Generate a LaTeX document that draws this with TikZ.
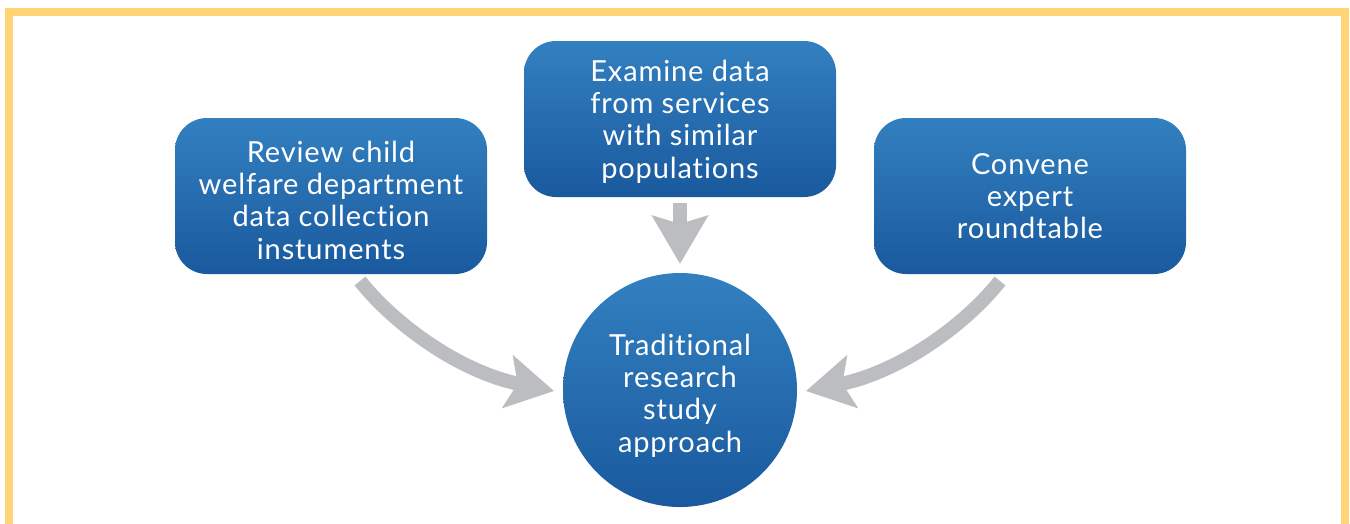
\documentclass[tikz,border=0pt]{standalone}
\usepackage{fontspec}
\setmainfont{Lato}[Ligatures=NoCommon, LetterSpace=3]
\usetikzlibrary{arrows.meta}
\definecolor{frameyellow}{RGB}{255,212,117}
\definecolor{boxtop}{RGB}{50,128,192}
\definecolor{boxbot}{RGB}{26,89,158}
\definecolor{arrowgray}{RGB}{188,189,192}
\tikzset{
  bluebox/.style={rounded corners=32pt, top color=boxtop, bottom color=boxbot,
    draw=none, minimum width=312pt, minimum height=156pt, text=white,
    align=center, inner sep=0pt, text depth=-2pt,
    font=\fontsize{29}{32.3}\selectfont},
  bluecircle/.style={circle, top color=boxtop, bottom color=boxbot,
    draw=none, minimum size=234pt, text=white, align=center, inner sep=0pt,
    text height=124pt, text depth=0pt, font=\fontsize{29}{32.3}\selectfont},
  grayarrow/.style={draw=arrowgray, line width=14pt,
    -{Stealth[length=47pt,width=53pt,inset=10pt]}},
  downarrow/.style={draw=arrowgray, line width=14pt,
    -{Stealth[length=48pt,width=55pt,inset=8pt]}}
}
\begin{document}
\begin{tikzpicture}[x=1pt,y=-1pt]
\useasboundingbox (0,0) rectangle (1350,523);
\clip (0,0) rectangle (1350,523);
% frame
\draw[frameyellow, line width=8pt] (9,540) -- (9,12) -- (1345,12) -- (1345,540);
% nodes
\node[bluebox, text height=126pt, text depth=0pt] (L) at (331,196) {Review child\\welfare department\\data collection\\instuments};
\node[bluebox] (M) at (680,119) {Examine data\\from services\\with similar\\populations};
\node[bluebox] (R) at (1030,196) {Convene\\expert\\roundtable};
\node[bluecircle] (C) at (680,390) {Traditional\\research\\study\\approach};
% arrow end points
\coordinate (ls) at (360,281);
\coordinate (le) at (554,391);
\coordinate (rs) at (1000,281);
\coordinate (re) at (806,391);
\coordinate (ms) at (680,203);
\coordinate (me) at (680,264);
% connectors
\draw[grayarrow] (ls) .. controls +(35,44) and +(-94,-19) .. (le);
\draw[grayarrow] (rs) .. controls +(-35,44) and +(94,-19) .. (re);
\draw[downarrow] (ms) -- (me);
\end{tikzpicture}
\end{document}
